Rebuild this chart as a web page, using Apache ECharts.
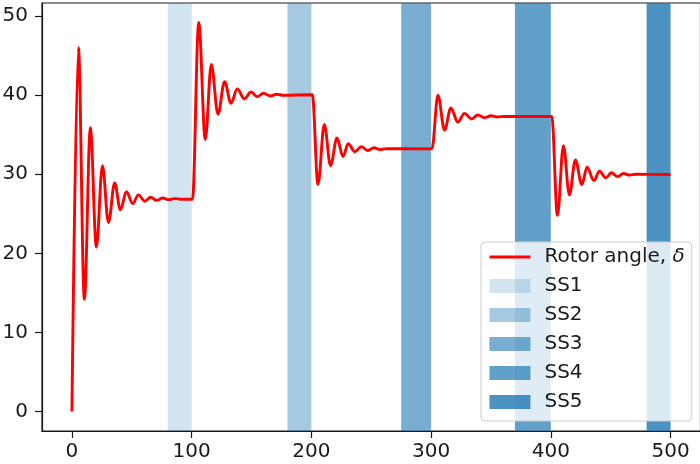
<!DOCTYPE html>
<html>
<head>
<meta charset="utf-8">
<script src="https://cdn.jsdelivr.net/npm/echarts@6/dist/echarts.min.js"></script>
<style>
  html, body { margin: 0; padding: 0; background: #fff; }
  #chart { width: 700px; height: 464px; }
</style>
</head>
<body>
<div id="chart"></div>
<script>
// Rotor angle response (time, degrees): turning points and settled levels
const timeSteps = [
  0, 5.4, 10.4, 15.4, 20.4, 25.5, 30.5, 35.7, 40.5, 45.5, 50.8, 55.5, 60.8, 65.8, 70.8, 75.8, 80.8, 85.8, 90.8, 100.7,
  105.9, 111.4, 116.4, 122, 127.5, 132.9, 138.1, 144, 149.6, 154.8, 160.1, 165.7, 171, 176, 200.8,
  205.5, 210.8, 216, 221.4, 226.4, 230.8, 236.4, 241.7, 246.9, 252.3, 257.5, 262.5, 300.7,
  305.7, 311.2, 316.5, 322.3, 327.9, 333.7, 339.1, 344.6, 350, 355.5, 361, 400.8,
  405.5, 410.5, 415.5, 420.5, 425.9, 430.3, 435.9, 440.6, 445.9, 450.6, 455.9, 460.6, 465.9, 471, 500
];
const rotorAngle = [
  0, 46.0, 14.2, 35.9, 20.8, 31.1, 23.9, 28.9, 25.5, 27.8, 26.3, 27.4, 26.6, 27.1, 26.7, 27.0, 26.8, 26.92, 26.85, 26.85,
  49.2, 34.4, 43.9, 37.6, 41.7, 39.0, 40.8, 39.55, 40.4, 39.8, 40.25, 39.9, 40.12, 40.0, 40.05,
  28.7, 36.3, 31.1, 34.6, 32.25, 33.86, 32.85, 33.5, 33.0, 33.35, 33.12, 33.25, 33.22,
  40.0, 35.6, 38.4, 36.6, 37.7, 37.0, 37.5, 37.15, 37.4, 37.25, 37.33, 37.3,
  24.8, 33.6, 27.4, 31.8, 28.7, 30.9, 29.2, 30.4, 29.55, 30.2, 29.7, 30.1, 29.9, 30.0, 29.97
];

// Shaded intervals SS1..SS5
const bandNames = ['SS1', 'SS2', 'SS3', 'SS4', 'SS5'];
const bandStart = [80, 180, 275, 370, 480];
const bandEnd = [100, 200, 300, 400, 500];
const bandAlpha = [0.2, 0.4, 0.6, 0.7, 0.8];

// Axis ticks
const xTicks = [0, 100, 200, 300, 400, 500];
const yTicks = [0, 10, 20, 30, 40, 50];

const lineName = 'Rotor angle, δ';
const font = 'DejaVu Sans';
const ink = '#1a1a1a';
const red = '#ff0000';
const fs = 20;

const chart = echarts.init(document.getElementById('chart'), null, { renderer: 'canvas' });

const bandSeries = bandNames.map((name, i) => {
  const color = 'rgba(31,119,180,' + bandAlpha[i] + ')';
  return {
    name: name,
    type: 'line',
    data: [],
    color: color,
    silent: true,
    z: 1,
    markArea: {
      silent: true,
      itemStyle: { color: color },
      data: [[{ xAxis: bandStart[i] }, { xAxis: bandEnd[i] }]]
    }
  };
});

const axisCommon = {
  type: 'value',
  splitLine: { show: false },
  axisLine: { show: true, onZero: false, lineStyle: { color: ink, width: 1.2 } }
};

const option = {
  animation: false,
  backgroundColor: '#fff',
  grid: {
    left: 42, top: 3, right: -0.5, bottom: 33,
    show: true, borderColor: ink, borderWidth: 1.2,
    backgroundColor: 'transparent',
    containLabel: false,
    outerBoundsMode: 'none'
  },
  xAxis: Object.assign({}, axisCommon, {
    min: -25, max: 525,
    axisTick: { show: true, inside: false, length: 7, lineStyle: { color: ink, width: 1.2 }, customValues: xTicks },
    axisLabel: { color: ink, fontFamily: font, fontSize: fs, margin: 11, customValues: xTicks }
  }),
  yAxis: Object.assign({}, axisCommon, {
    min: -2.46, max: 51.66,
    axisTick: { show: true, inside: false, length: 7, lineStyle: { color: ink, width: 1.2 }, customValues: yTicks },
    axisLabel: { color: ink, fontFamily: font, fontSize: fs, margin: 14, customValues: yTicks }
  }),
  legend: {
    orient: 'vertical',
    left: 481, top: 242,
    padding: [5, 7, 9, 7],
    itemWidth: 41, itemHeight: 14, itemGap: 9,
    backgroundColor: 'rgba(255,255,255,0.8)',
    borderColor: '#cccccc', borderWidth: 1, borderRadius: 4,
    selectedMode: false,
    data: [{
      name: lineName,
      itemStyle: { opacity: 0 },
      lineStyle: { color: red, width: 2.9 }
    }].concat(bandNames.map((n, i) => ({
      name: n, icon: 'rect', itemStyle: { color: 'rgba(31,119,180,' + bandAlpha[i] + ')' }
    }))),
    formatter: function (name) {
      return name === lineName ? '{n|Rotor angle, }{i|δ}' : '{n|' + name + '}';
    },
    textStyle: {
      color: ink, fontFamily: font, fontSize: fs, padding: [0, 0, 0, 9],
      rich: {
        n: { color: ink, fontFamily: font, fontSize: fs },
        i: { color: ink, fontFamily: font, fontSize: fs, fontStyle: 'italic' }
      }
    }
  },
  series: bandSeries.concat([{
    name: lineName,
    type: 'line',
    data: timeSteps.map((t, i) => [t, rotorAngle[i]]),
    color: red,
    showSymbol: false,
    symbol: 'none',
    smooth: 0.36,
    smoothMonotone: 'x',
    lineStyle: { color: red, width: 2.9 },
    z: 3
  }])
};

chart.setOption(option);
</script>
</body>
</html>
